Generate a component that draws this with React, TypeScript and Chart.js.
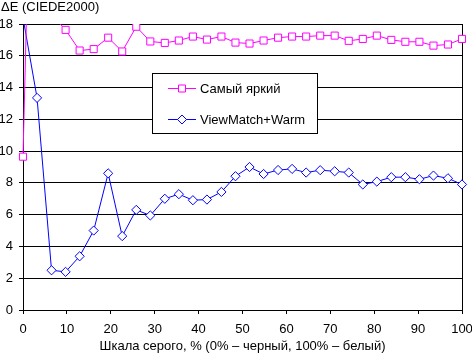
import React, { useEffect, useRef } from "react";
import { Chart, registerables } from "chart.js";

Chart.register(...registerables);

const grayLevels = [0, 3.2, 6.5, 9.7, 12.9, 16.1, 19.4, 22.6, 25.8, 29.0, 32.3, 35.5, 38.7, 41.9, 45.2, 48.4, 51.6, 54.8, 58.1, 61.3, 64.5, 67.7, 71.0, 74.2, 77.4, 80.6, 83.9, 87.1, 90.3, 93.5, 96.8, 100];
const brightest = [9.65, 45, 18.6, 17.63, 16.33, 16.42, 17.14, 16.27, 17.83, 16.9, 16.81, 16.96, 17.21, 17.02, 17.21, 16.83, 16.77, 16.96, 17.14, 17.21, 17.21, 17.27, 17.27, 16.94, 17.06, 17.27, 17.0, 16.88, 16.88, 16.64, 16.71, 17.06];
const viewMatch = [18.4, 13.35, 2.5, 2.4, 3.38, 5.0, 8.6, 4.65, 6.3, 5.95, 7.0, 7.29, 6.91, 6.95, 7.43, 8.42, 9.0, 8.56, 8.81, 8.88, 8.65, 8.8, 8.73, 8.65, 7.9, 8.08, 8.36, 8.36, 8.23, 8.46, 8.29, 7.9];

const seriesNames = ["Самый яркий", "ViewMatch+Warm"];
const seriesColors = ["#FF00FF", "#0000FF"];
const seriesMarkers = ["rect", "rectRot"];
const yTitle = "ΔE (CIEDE2000)";
const xTitle = "Шкала серого, % (0% – черный, 100% – белый)";
const FONT = '"Liberation Sans", Arial, sans-serif';

const overlayPlugin = {
  id: "overlay",
  afterDraw(chart: any) {
    const ctx = chart.ctx;
    const area = chart.chartArea;
    ctx.save();
    ctx.fillStyle = "#000";
    ctx.font = `13px ${FONT}`;
    ctx.textBaseline = "alphabetic";
    ctx.textAlign = "left";
    ctx.fillText(yTitle, 1, 11);
    ctx.textAlign = "center";
    ctx.fillText(xTitle, (area.left + area.right) / 2, 349.5);

    // legend box
    ctx.fillStyle = "#fff";
    ctx.fillRect(152.5, 73.5, 165, 60);
    ctx.strokeStyle = "#000";
    ctx.lineWidth = 1;
    ctx.strokeRect(152.5, 73.5, 165, 60);
    const rows = [88.5, 119.5];
    rows.forEach((y, i) => {
      ctx.strokeStyle = seriesColors[i];
      ctx.lineWidth = 1;
      ctx.beginPath();
      ctx.moveTo(168, y);
      ctx.lineTo(196, y);
      ctx.stroke();
      ctx.fillStyle = "#fff";
      ctx.beginPath();
      if (i === 0) {
        ctx.rect(178.5, y - 3.5, 7, 7);
      } else {
        ctx.moveTo(182, y - 4.5);
        ctx.lineTo(186.5, y);
        ctx.lineTo(182, y + 4.5);
        ctx.lineTo(177.5, y);
        ctx.closePath();
      }
      ctx.fill();
      ctx.stroke();
      ctx.fillStyle = "#000";
      ctx.textAlign = "left";
      ctx.textBaseline = "middle";
      ctx.fillText(seriesNames[i], 200, y + 0.5);
    });
    ctx.restore();
  },
};

export default function App() {
  const ref = useRef<HTMLCanvasElement>(null);
  useEffect(() => {
    if (!ref.current) return;
    Chart.defaults.font.family = FONT;
    Chart.defaults.font.size = 13;
    Chart.defaults.color = "#000";
    const data = [brightest, viewMatch];
    const chart = new Chart(ref.current, {
      type: "line",
      data: {
        datasets: data.map((vals, i) => ({
          label: seriesNames[i],
          data: grayLevels.map((x, k) => ({ x, y: vals[k] })),
          borderColor: seriesColors[i],
          backgroundColor: "#fff",
          borderWidth: 1,
          pointStyle: seriesMarkers[i] as any,
          pointRadius: i === 0 ? 5 : 4.6,
          pointBorderWidth: 1,
          pointBorderColor: seriesColors[i],
          pointBackgroundColor: "#fff",
          tension: 0,
          clip: { left: 8, right: 8, top: 0, bottom: 8 } as any,
        })),
      },
      options: {
        responsive: false,
        animation: false,
        layout: { padding: { left: 0, top: 24, right: 10, bottom: 0 } },
        plugins: { legend: { display: false }, tooltip: { enabled: false } },
        scales: {
          x: {
            type: "linear",
            min: 0,
            max: 100,
            afterFit: (s: any) => { s.height = 43; s.paddingRight = 0; s.paddingLeft = 0; },
            ticks: { stepSize: 10, padding: 8, color: "#000", maxRotation: 0 },
            grid: {
              color: (c: any) => (c.tick && c.tick.value === 100 ? "#000" : "rgba(0,0,0,0)"),
              tickColor: "#000",
              tickLength: 4,
              lineWidth: 1,
            },
            border: { display: true, color: "#000" },
          },
          y: {
            min: 0,
            max: 18,
            afterFit: (s: any) => { s.width = 23; s.paddingTop = 0; s.paddingBottom = 0; },
            ticks: { stepSize: 2, padding: 6, color: "#000" },
            grid: { color: "#000", tickColor: "#000", tickLength: 4, lineWidth: 1 },
            border: { display: true, color: "#000" },
          },
        },
      },
      plugins: [overlayPlugin],
    });
    return () => chart.destroy();
  }, []);
  return (
    <div style={{ position: "absolute", left: 0, top: 0, width: 472, height: 353, background: "#fff" }}>
      <canvas ref={ref} width={472} height={353} />
    </div>
  );
}
